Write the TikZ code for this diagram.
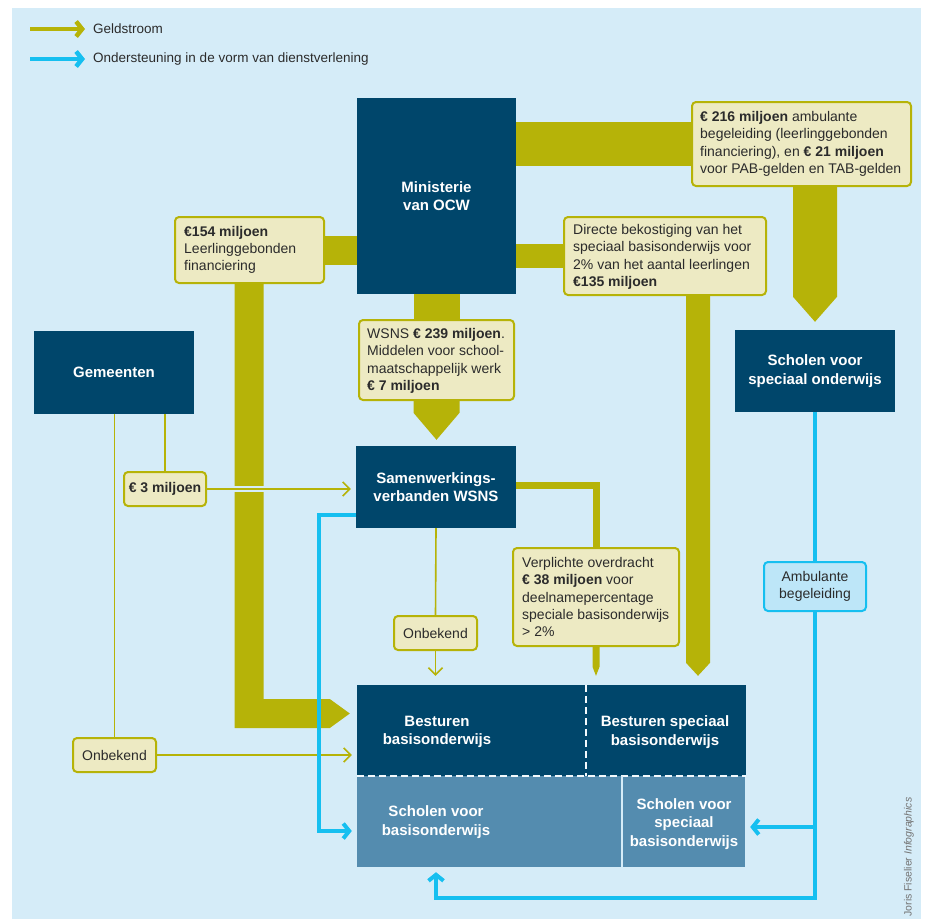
\documentclass[tikz,border=0pt]{standalone}
\usepackage{fontspec}
\setmainfont{Liberation Sans}
\usetikzlibrary{arrows.meta,calc}
\definecolor{bgc}{HTML}{D5ECF8}
\definecolor{darkc}{HTML}{00466B}
\definecolor{lightc}{HTML}{548CAF}
\definecolor{olivec}{HTML}{B6B308}
\definecolor{labc}{HTML}{EDEAC3}
\definecolor{bluec}{HTML}{16BFF0}
\definecolor{ambc}{HTML}{BDE6F8}
\definecolor{txtc}{HTML}{2B2B2B}
\pgfdeclarelayer{bgfill}
\pgfdeclarelayer{conn}
\pgfsetlayers{bgfill,conn,main}
\begin{document}
\begin{tikzpicture}[x=1pt,y=-1pt,
  darkbox/.style={fill=darkc, inner sep=0pt, text=white, font=\bfseries\fontsize{15}{18.5}\selectfont, align=center},
  lightbox/.style={fill=lightc, inner sep=0pt},
  wtext/.style={text=white, font=\bfseries\fontsize{15}{18.5}\selectfont, align=center, inner sep=0pt},
  labbox/.style={draw=olivec, line width=2pt, fill=labc, rounded corners=4pt, inner sep=0pt, text=txtc, font=\fontsize{14}{17.3}\selectfont, align=center},
  labtext/.style={text=txtc, font=\fontsize{14}{17.3}\selectfont, align=left, inner sep=0pt, anchor=west},
  legtext/.style={text=txtc, font=\fontsize{13.5}{16}\selectfont, inner sep=0pt, anchor=west},
  geld/.style={fill=olivec},
  thinline/.style={draw=olivec, line width=1.6pt},
  thinarrow/.style={thinline, -{Straight Barb[length=7pt,width=14pt]}},
  steun/.style={draw=bluec, line width=4pt, line join=miter},
  steunarrow/.style={steun, -{Straight Barb[length=6pt,width=15pt]}},
  dashline/.style={draw=white!70!bgc, line width=2pt, dash pattern=on 7pt off 4pt},
]
\useasboundingbox (0,0) rectangle (925,919);
\begin{pgfonlayer}{bgfill}
\fill[bgc] (12,8) rectangle (921,919);
\end{pgfonlayer}

% legend
\coordinate (g1) at (30,29); \coordinate (g2) at (85,29);
\coordinate (s1) at (30,59); \coordinate (s2) at (85,59);
\draw[olivec, line width=4.5pt, -{Straight Barb[length=6pt,width=15pt]}] (g1) -- (g2);
\draw[bluec, line width=4.5pt, -{Straight Barb[length=6pt,width=15pt]}] (s1) -- (s2);
\node[legtext] (lg1) at (93,29) {Geldstroom};
\node[legtext] (lg2) at (93,59) {Ondersteuning in de vorm van dienstverlening};

% main boxes
\node[darkbox, minimum width=159pt, minimum height=196pt] (min) at (436.5,196) {Ministerie\\van OCW};
\node[darkbox, minimum width=160pt, minimum height=83pt] (gem) at (114,372.5) {Gemeenten};
\node[darkbox, minimum width=160pt, minimum height=82pt] (sam) at (436,487) {Samenwerkings-\\verbanden WSNS};
\node[darkbox, minimum width=160pt, minimum height=82pt] (sso) at (815,371) {Scholen voor\\speciaal onderwijs};

\node[darkbox, minimum width=229pt, minimum height=91pt] (bb) at (471.5,730.5) {};
\node[darkbox, minimum width=160pt, minimum height=91pt] (bsp) at (666,730.5) {};
\node[lightbox, minimum width=265pt, minimum height=91pt] (sb) at (489.5,821.5) {};
\node[lightbox, minimum width=123pt, minimum height=91pt] (ssb) at (683.5,821.5) {};
\draw[dashline] (bb.south west) -- (bsp.south east);
\draw[dashline] (bb.north east) -- (bb.south east);
\draw[bgc, line width=2pt] (sb.north east) -- (sb.south east);
\node[wtext] (bbt) at (437,732) {Besturen\\basisonderwijs};
\node[wtext] (bspt) at (665,732) {Besturen speciaal\\basisonderwijs};
\node[wtext] (sbt) at (436,822) {Scholen voor\\basisonderwijs};
\node[wtext] (ssbt) at (684,824) {Scholen voor\\speciaal\\basisonderwijs};

% label boxes
\node[labbox, minimum width=149pt, minimum height=66pt] (l154) at (249.5,250) {};
\node[labtext] (t154) at ($(l154.west)+(10,0)$) {\textbf{€154 miljoen}\\Leerlinggebonden\\financiering};
\node[labbox, minimum width=219pt, minimum height=84pt] (l216) at (801.5,144) {};
\node[labtext] (t216) at ($(l216.west)+(9,0)$) {\textbf{€ 216 miljoen} ambulante\\begeleiding (leerlinggebonden\\financiering), en \textbf{€ 21 miljoen}\\voor PAB-gelden en TAB-gelden};
\node[labbox, minimum width=202pt, minimum height=78pt] (ldir) at (665,256) {};
\node[labtext] (tdir) at ($(ldir.west)+(10,1)$) {Directe bekostiging van het\\speciaal basisonderwijs voor\\2\% van het aantal leerlingen\\\textbf{€135 miljoen}};
\node[labbox, minimum width=155pt, minimum height=80pt] (lwsns) at (436.5,360) {};
\node[labtext] (twsns) at ($(lwsns.west)+(9,1)$) {WSNS \textbf{€ 239 miljoen}.\\Middelen voor school-\\maatschappelijk werk\\\textbf{€ 7 miljoen}};
\node[labbox, minimum width=166pt, minimum height=98pt] (lverp) at (596,597) {};
\node[labtext] (tverp) at ($(lverp.west)+(10,0)$) {Verplichte overdracht\\\textbf{€ 38 miljoen} voor\\deelnamepercentage\\speciale basisonderwijs\\> 2\%};
\node[labbox, minimum width=82pt, minimum height=34pt] (l3) at (165,489) {\textbf{€ 3 miljoen}};
\node[labbox, minimum width=83pt, minimum height=34pt] (lonb1) at (435.5,633) {Onbekend};
\node[labbox, minimum width=83pt, minimum height=34pt] (lonb2) at (114.5,755) {Onbekend};
\node[labbox, draw=bluec, fill=ambc, minimum width=102pt, minimum height=49pt] (amb) at (815,586.5) {Ambulante\\begeleiding};

% credit
\node[rotate=90, inner sep=0pt, text=black!55, font=\fontsize{10.5}{12}\selectfont] (cred) at (909,857) {Joris Fiselier \textit{Infographics}};

\begin{pgfonlayer}{conn}
% Ministry -> 216 -> scholen speciaal onderwijs
\draw[olivec, line width=44pt] (min.center |- l216.west) -- (l216.center);
\fill[geld] ($(sso.north |- l216.center)+(-22,0)$) -- ($(sso.north)+(-22,-33)$) -- ($(sso.north)+(0,-8)$) -- ($(sso.north)+(22,-33)$) -- ($(sso.north |- l216.center)+(22,0)$) -- cycle;
% Ministry -> directe -> besturen speciaal
\draw[olivec, line width=24pt] (min.center |- ldir.west) -- (ldir.center);
\fill[geld] ($(ldir.center)+(21,0)$) -- ($(ldir.center |- bsp.north)+(21,-22)$) -- ($(ldir.center |- bsp.north)+(33,-9)$) -- ($(ldir.center |- bsp.north)+(45,-22)$) -- ($(ldir.center)+(45,0)$) -- cycle;
% Ministry -> 154 -> besturen basisonderwijs
\draw[olivec, line width=29pt] (l154.center) -- (min.center |- l154.center);
\coordinate (lc) at (l154.center |- bb.west);
\fill[geld] ($(l154.center)+(-15,0)$) -- ($(lc)+(-15,-2.5)$) -- ($(bb.west)+(-27,-2.5)$) -- ($(bb.west)+(-7,-17)$) -- ($(bb.west)+(-27,-31.5)$) -- ($(lc)+(14,-31.5)$) -- ($(l154.center)+(14,0)$) -- cycle;
% Ministry -> WSNS -> samenwerkingsverbanden
\draw[olivec, line width=46pt] (min.center) -- (lwsns.center);
\fill[geld] ($(lwsns.center)+(-23,0)$) -- ($(lwsns.center |- sam.north)+(-23,-33)$) -- ($(lwsns.center |- sam.north)+(0,-6)$) -- ($(lwsns.center |- sam.north)+(23,-33)$) -- ($(lwsns.center)+(23,0)$) -- cycle;
% samenwerkingsverbanden -> verplichte -> bestuur
\draw[olivec, line width=7pt, line join=miter] ($(sam.center)+(0,-1.5)$) -- ($(sam.center -| lverp.north)+(0,-1.5)$) -- (lverp.center);
\fill[geld] ($(lverp.center)+(-3.5,0)$) -- ($(lverp.center |- bb.north)+(-3.5,-18)$) -- ($(lverp.center |- bb.north)+(0,-9)$) -- ($(lverp.center |- bb.north)+(3.5,-18)$) -- ($(lverp.center)+(3.5,0)$) -- cycle;
% thin lines
\draw[thinline] (gem.south -| lonb2.north) -- (lonb2.north);
\draw[thinarrow, shorten >=5pt] (lonb2.east) -- (lonb2.east -| bb.west);
\draw[thinline] (gem.south -| l3.north) -- (l3.north);
\draw[bgc, line width=6pt] ($(l3.east -| l154.center)+(-17,0)$) -- ++(34,0);
\draw[thinarrow, shorten >=5pt] (l3.east) -- (l3.east -| sam.west);
\draw[thinline] (sam.south) -- (lonb1.north);
\draw[thinarrow, shorten >=9pt] (lonb1.south) -- (lonb1.south |- bb.north);
% blue
\draw[steunarrow, shorten >=5pt] ($(sam.west)+(0,28)$) -- ++(-37,0) |- ($(sb.west)+(0,9.5)$);
\draw[steun] (sso.south) -- (amb.north);
\draw[steunarrow, shorten >=5pt] (amb.south) -- ($(amb.south)+(0,286)$) -| (sbt |- sb.south);
\draw[steunarrow, shorten >=5pt] ($(amb.south |- ssb.east)+(0,5.5)$) -- ($(ssb.east)+(0,5.5)$);
\end{pgfonlayer}
\end{tikzpicture}
\end{document}
